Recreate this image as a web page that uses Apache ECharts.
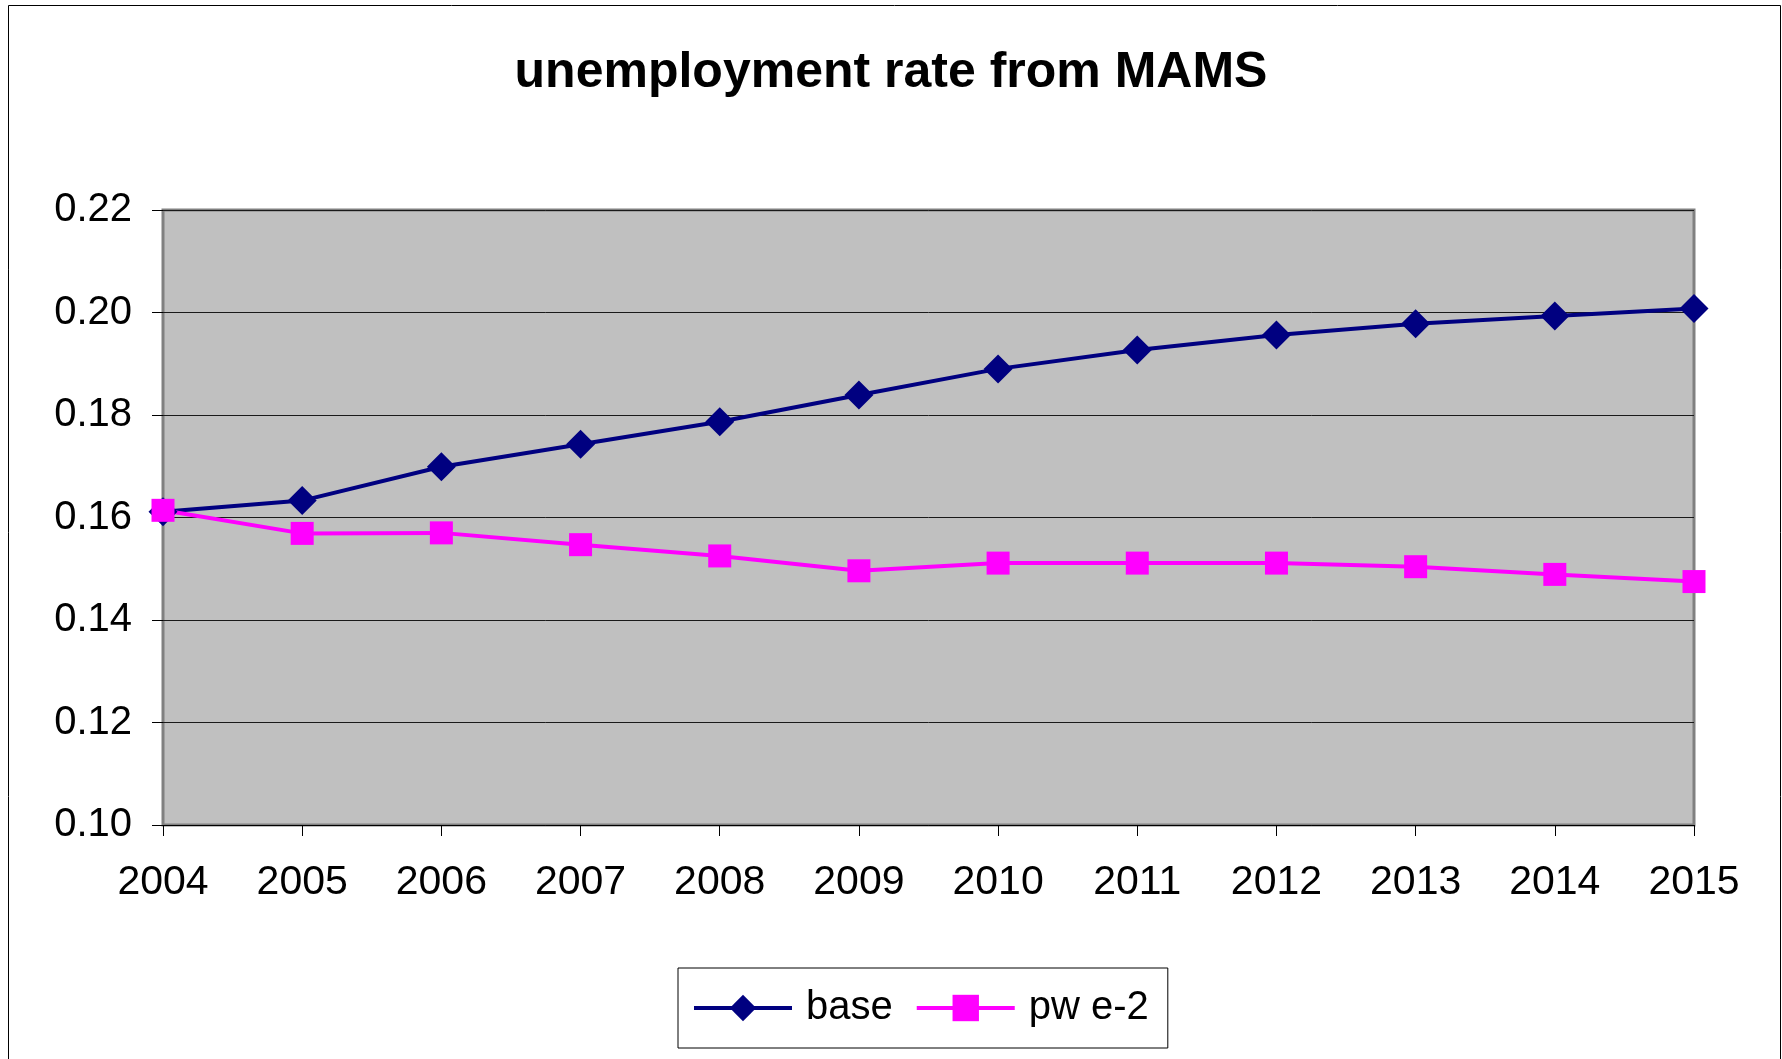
<!DOCTYPE html>
<html>
<head>
<meta charset="utf-8">
<script src="https://cdn.jsdelivr.net/npm/echarts@6/dist/echarts.min.js"></script>
<style>
html,body{margin:0;padding:0;background:#fff;}
#chart{width:1782px;height:1059px;}
</style>
</head>
<body>
<div id="chart"></div>
<script>
const years = ['2004','2005','2006','2007','2008','2009','2010','2011','2012','2013','2014','2015'];
const baseValues = [0.1611, 0.1633, 0.1699, 0.1743, 0.1787, 0.1839, 0.1890, 0.1927, 0.1956, 0.1978, 0.1993, 0.2008];
const pweValues  = [0.1614, 0.1569, 0.1570, 0.1547, 0.1525, 0.1496, 0.1511, 0.1511, 0.1511, 0.1504, 0.1489, 0.1475];
const seriesNames = ['base', 'pw e-2'];
const titleText = 'unemployment rate from MAMS';

const font = '"Liberation Sans", Arial, sans-serif';
const chart = echarts.init(document.getElementById('chart'), null, {renderer: 'canvas'});
chart.setOption({
  backgroundColor: '#ffffff',
  animation: false,
  graphic: [{
    type: 'rect',
    z: -10,
    silent: true,
    shape: {x: 8.5, y: 5.5, width: 1772, height: 1100},
    style: {fill: 'none', stroke: '#000', lineWidth: 1}
  }],
  title: {
    text: titleText,
    left: 'center',
    top: 43,
    textStyle: {fontFamily: font, fontSize: 50, fontWeight: 'bold', color: '#000'}
  },
  legend: {
    left: 678,
    top: 968,
    padding: [20, 19, 20, 14],
    itemGap: 22,
    itemWidth: 98,
    itemHeight: 33,
    borderColor: '#000',
    borderWidth: 1,
    backgroundColor: '#fff',
    lineStyle: {width: 4},
    textStyle: {fontFamily: font, fontSize: 40, color: '#000', padding: [0, 0, 0, 9]},
    data: seriesNames
  },
  grid: {
    left: 163, right: 88, top: 210, bottom: 234,
    show: true,
    backgroundColor: '#C0C0C0',
    borderColor: '#808080',
    borderWidth: 3
  },
  xAxis: {
    type: 'category',
    data: years,
    boundaryGap: false,
    axisLine: {show: true, lineStyle: {color: '#000', width: 1}},
    axisTick: {show: true, length: 11, lineStyle: {color: '#000', width: 1}},
    axisLabel: {fontFamily: font, fontSize: 41, color: '#000', margin: 37},
    splitLine: {show: false}
  },
  yAxis: {
    type: 'value',
    min: 0.10,
    max: 0.22,
    interval: 0.02,
    axisLine: {show: false},
    axisTick: {show: true, length: 11, lineStyle: {color: '#000', width: 1}},
    axisLabel: {fontFamily: font, fontSize: 40, color: '#000', margin: 31,
      formatter: v => v.toFixed(2)},
    splitLine: {show: true, lineStyle: {color: '#1a1a1a', width: 1}}
  },
  series: [
    {
      name: seriesNames[0],
      type: 'line',
      data: baseValues,
      color: '#000080',
      symbol: 'diamond',
      symbolSize: 29,
      showAllSymbol: true,
      lineStyle: {color: '#000080', width: 4},
      itemStyle: {color: '#000080'}
    },
    {
      name: seriesNames[1],
      type: 'line',
      data: pweValues,
      color: '#FF00FF',
      symbol: 'rect',
      symbolSize: 23,
      showAllSymbol: true,
      lineStyle: {color: '#FF00FF', width: 4},
      itemStyle: {color: '#FF00FF'}
    }
  ]
});
</script>
</body>
</html>
